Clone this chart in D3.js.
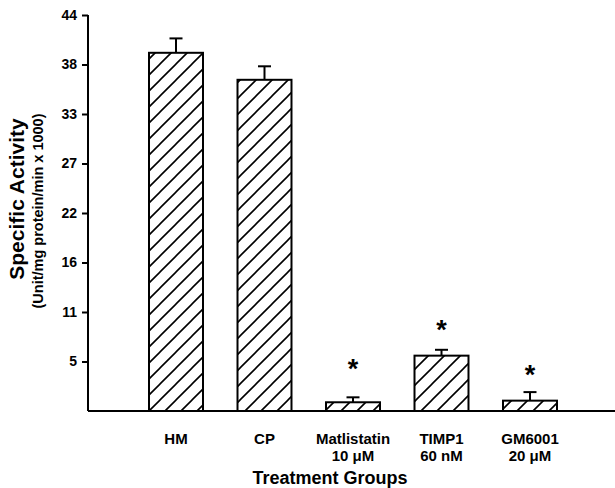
<!DOCTYPE html>
<html lang="en">
<head>
  <meta charset="UTF-8">
  <title>Specific Activity by Treatment Group</title>
  <script src="https://d3js.org/d3.v7.min.js"></script>
  <style>
    body { margin: 0; background: #fff; }
    svg { display: block; font-family: 'Liberation Sans', Arial, sans-serif; }
    .axis path, .axis line { stroke: #000; stroke-width: 2px; }
    .axis text { font-size: 14px; font-weight: bold; fill: #000; }
  </style>
</head>
<body>
  <svg width="615" height="488"></svg>
  <script>
    const groups = ["HM", "CP", "Matlistatin", "TIMP1", "GM6001"];
    const groupSubLabels = ["", "", "10 \u03bcM", "60 nM", "20 \u03bcM"];
    const means = [39.8, 36.8, 0.97, 6.15, 1.15];
    const errors = [1.6, 1.5, 0.55, 0.65, 0.95];
    const starAt = [null, null, 5.37, 9.67, 4.63];
    const tickValues = [5.5, 11, 16.5, 22, 27.5, 33, 38.5, 44];
    const tickLabels = ["5", "11", "16", "22", "27", "33", "38", "44"];

    const svg = d3.select("svg");
    const plot = { left: 88, right: 615, top: 15, bottom: 411 };

    const x = d3.scaleBand()
        .domain(groups)
        .range([131.75, 574.25])
        .paddingInner(0.39)
        .paddingOuter(0.195);

    const y = d3.scaleLinear()
        .domain([0, 44])
        .range([plot.bottom, plot.top]);

    // diagonal hatch fill
    svg.append("defs").append("pattern")
        .attr("id", "hatch")
        .attr("patternUnits", "userSpaceOnUse")
        .attr("width", 16)
        .attr("height", 16)
      .append("path")
        .attr("d", "M0,16 L16,0 M-4,4 L4,-4 M12,20 L20,12")
        .attr("stroke", "#000")
        .attr("stroke-width", 1.6);

    // error bars (upper half only), drawn under the bars
    const err = svg.append("g");
    groups.forEach((g, i) => {
      const cx = x(g) + x.bandwidth() / 2;
      err.append("line")
          .attr("x1", cx).attr("x2", cx)
          .attr("y1", y(means[i])).attr("y2", y(means[i] + errors[i]))
          .attr("stroke", "#000").attr("stroke-width", 2);
      err.append("line")
          .attr("x1", cx - 6.5).attr("x2", cx + 6.5)
          .attr("y1", y(means[i] + errors[i])).attr("y2", y(means[i] + errors[i]))
          .attr("stroke", "#000").attr("stroke-width", 2);
    });

    svg.append("g")
      .selectAll("rect")
      .data(groups)
      .enter().append("rect")
        .attr("x", d => x(d))
        .attr("y", (d, i) => y(means[i]))
        .attr("width", x.bandwidth())
        .attr("height", (d, i) => y(0) - y(means[i]))
        .attr("fill", "url(#hatch)")
        .attr("stroke", "#000")
        .attr("stroke-width", 2);

    // significance stars
    svg.append("g")
      .selectAll("text")
      .data(groups.filter((g, i) => starAt[i] != null))
      .enter().append("text")
        .attr("x", d => x(d) + x.bandwidth() / 2)
        .attr("y", d => y(starAt[groups.indexOf(d)]) + 15)
        .attr("text-anchor", "middle")
        .style("font-size", "27px")
        .style("font-weight", "bold")
        .text("*");

    // y axis
    svg.append("g")
        .attr("class", "axis")
        .attr("transform", `translate(${plot.left},0)`)
        .call(d3.axisLeft(y)
          .tickValues(tickValues)
          .tickFormat((d, i) => tickLabels[i])
          .tickSize(6)
          .tickPadding(5)
          .tickSizeOuter(0))
        .call(g => g.select(".domain").attr("d", `M0,${plot.top}V${plot.bottom}`));

    // baseline
    svg.append("line")
        .attr("x1", plot.left).attr("x2", plot.right)
        .attr("y1", y(0)).attr("y2", y(0))
        .attr("stroke", "#000").attr("stroke-width", 2);

    // category labels
    const labels = svg.append("g")
        .style("font-size", "15px")
        .style("font-weight", "bold")
        .attr("text-anchor", "middle");
    groups.forEach((g, i) => {
      const cx = x(g) + x.bandwidth() / 2;
      labels.append("text").attr("x", cx).attr("y", 444).text(g);
      if (groupSubLabels[i]) labels.append("text").attr("x", cx).attr("y", 461).text(groupSubLabels[i]);
    });

    svg.append("text")
        .attr("x", 330).attr("y", 484)
        .attr("text-anchor", "middle")
        .style("font-size", "18px")
        .style("font-weight", "bold")
        .text("Treatment Groups");

    svg.append("text")
        .attr("transform", "translate(24,199) rotate(-90)")
        .attr("text-anchor", "middle")
        .style("font-size", "21px")
        .style("font-weight", "bold")
        .text("Specific Activity");

    svg.append("text")
        .attr("transform", "translate(43,211) rotate(-90)")
        .attr("text-anchor", "middle")
        .style("font-size", "14.5px")
        .style("font-weight", "bold")
        .text("(Unit/mg protein/min x 1000)");
  </script>
</body>
</html>
